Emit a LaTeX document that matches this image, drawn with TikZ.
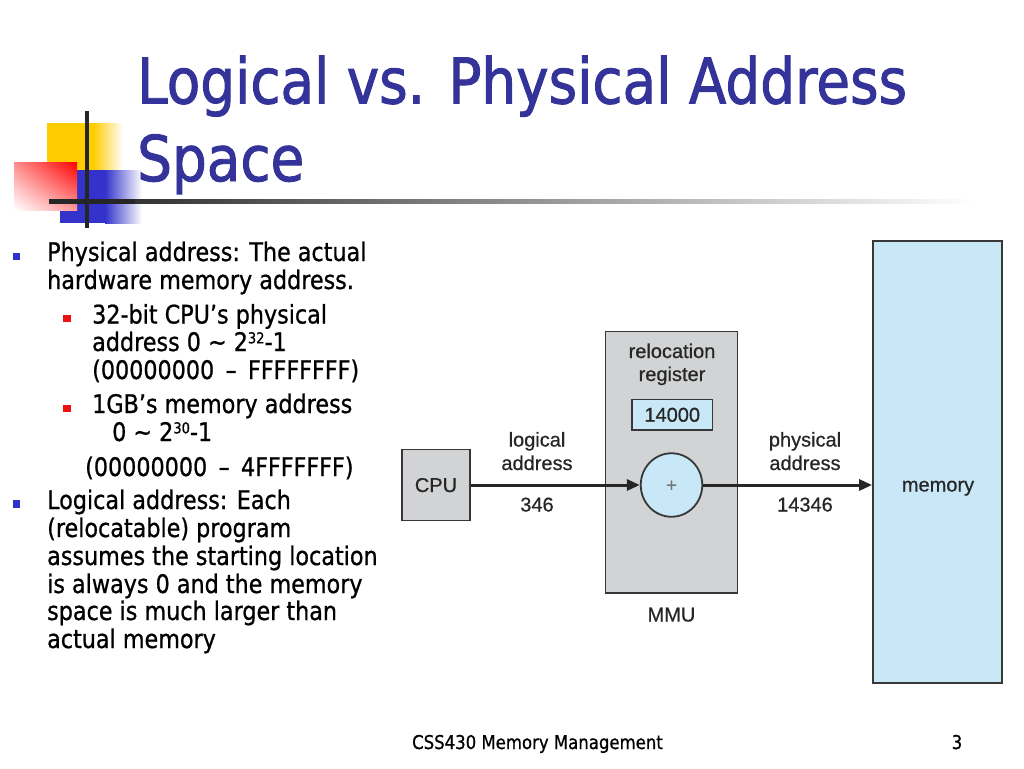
\documentclass[tikz,border=0pt]{standalone}
\usepackage{fontspec}
\setmainfont{DejaVu Sans}[FakeStretch=0.87,FakeBold=0.8]
\newfontfamily\titlefont{DejaVu Sans}[FakeStretch=0.87,FakeBold=1.5]
\newfontfamily\diagfont{Liberation Sans}[FakeBold=0.6]
\usetikzlibrary{arrows.meta,shapes.geometric,shadings}
\definecolor{titleblue}{RGB}{51,51,153}
\definecolor{bulblue}{RGB}{51,51,204}
\definecolor{bulred}{RGB}{238,17,17}
\definecolor{boxgray}{RGB}{209,211,212}
\definecolor{boxline}{RGB}{55,55,55}
\definecolor{lblue}{RGB}{200,232,248}
\definecolor{decoyellow}{RGB}{255,204,0}
\newcommand\supx[1]{\raisebox{0.3em}{\fontsize{15}{15}\selectfont #1}}
\begin{document}
\begin{tikzpicture}[x=1pt,y=-1pt,
  title/.style={anchor=base west,inner sep=0,text=titleblue,font=\titlefont\fontsize{63}{63}\selectfont},
  body/.style={anchor=base west,inner sep=0,font=\fontsize{25.6}{25.6}\selectfont},
  dtext/.style={anchor=base,inner sep=0,font=\diagfont\fontsize{20}{20}\selectfont,text=black!85},
  graybox/.style={draw=boxline,line width=1.8pt,fill=boxgray,inner sep=0},
  bluebox/.style={draw=boxline,line width=1.8pt,fill=lblue,inner sep=0},
  arr/.style={draw=black!85,line width=3pt,-{Triangle[length=13pt,width=11pt]}},
  foot/.style={anchor=base,inner sep=0,font=\fontsize{19}{19}\selectfont}]
\useasboundingbox[fill=white] (0,0) rectangle (1024,768);

% decoration
\fill[decoyellow] (47,123) rectangle (93,170);
\shade[left color=decoyellow,right color=white] (93,123) rectangle (123,170);
\fill[bulblue] (60,170) rectangle (105,223);
\shade[left color=bulblue,right color=white] (105,170) rectangle (142,223);
\shade[upper right=red,upper left=red!45,lower right=red!40,lower left=white] (14,162) rectangle (77,210);
\fill[black!85] (85.3,111) rectangle (89.3,228);
\fill[black!85] (49,199) rectangle (135,203.5);
\shade[left color=black!80,right color=white] (135,199) rectangle (975,203.5);

% title
\node[title] (t1) at (137,103.5) {Logical vs. Physical Address};
\node[title] (t2) at (137,181) {Space};

% bullets
\fill[bulblue] (12.5,252.5) rectangle (20,260);
\fill[bulblue] (12.5,500) rectangle (20,507.5);
\fill[bulred] (63,315) rectangle (70.5,322);
\fill[bulred] (63,404.5) rectangle (70.5,411.5);

\node[body] (b1) at (47,261) {Physical address: The actual};
\node[body] (b2) at (47,289) {hardware memory address.};
\node[body] (s1) at (92,323.5) {32-bit CPU’s physical};
\node[body] (s2) at (92,351) {address 0 \textasciitilde{} 2\supx{32}-1};
\node[body] (s3) at (92,379) {(00000000 \,–\, FFFFFFFF)};
\node[body] (s4) at (92,413) {1GB’s memory address};
\node[body] (s5) at (112,441) {0 \textasciitilde{} 2\supx{30}-1};
\node[body] (s6) at (85,476) {(00000000 \,–\, 4FFFFFFF)};
\node[body] (l1) at (47,509) {Logical address: Each};
\node[body] (l2) at (47,537) {(relocatable) program};
\node[body] (l3) at (47,565) {assumes the starting location};
\node[body] (l4) at (47,593) {is always 0 and the memory};
\node[body] (l5) at (47,620) {space is much larger than};
\node[body] (l6) at (47,648) {actual memory};

% diagram
\node[bluebox,minimum width=129,minimum height=442] (mem) at (937.5,462) {};
\node[graybox,minimum width=132,minimum height=261.5] (mmu) at (671.5,462.25) {};
\node[graybox,minimum width=68,minimum height=71] (cpu) at (436,485) {};
\node[bluebox,minimum width=80.5,minimum height=30.5] (reg) at (672.25,414.75) {};
\node[bluebox,ellipse,minimum width=61.5,minimum height=63.5] (add) at (671.5,485) {};

\node[dtext] (cpul) at (436,492) {CPU};
\node[dtext] (reg1) at (672,358) {relocation};
\node[dtext] (reg2) at (672,381) {register};
\node[dtext] (regv) at (672.25,421.7) {14000};
\node[dtext,text=black!55,font=\diagfont\fontsize{19}{19}\selectfont] (plus) at (671.5,491.5) {+};
\node[dtext] (la1) at (537,446.5) {logical};
\node[dtext] (la2) at (537,470) {address};
\node[dtext] (la3) at (537,511.5) {346};
\node[dtext] (pa1) at (805,446.5) {physical};
\node[dtext] (pa2) at (805,470) {address};
\node[dtext] (pa3) at (805,511.5) {14346};
\node[dtext] (mmul) at (671.5,621.5) {MMU};
\node[dtext] (meml) at (938,491.5) {memory};

\draw[arr] (cpu.east) -- (add.west);
\draw[arr] (add.east) -- (add.east -| mem.west);

% footer
\node[foot] (f1) at (537.5,749) {CSS430 Memory Management};
\node[foot] (f2) at (957,749) {3};
\end{tikzpicture}
\end{document}
